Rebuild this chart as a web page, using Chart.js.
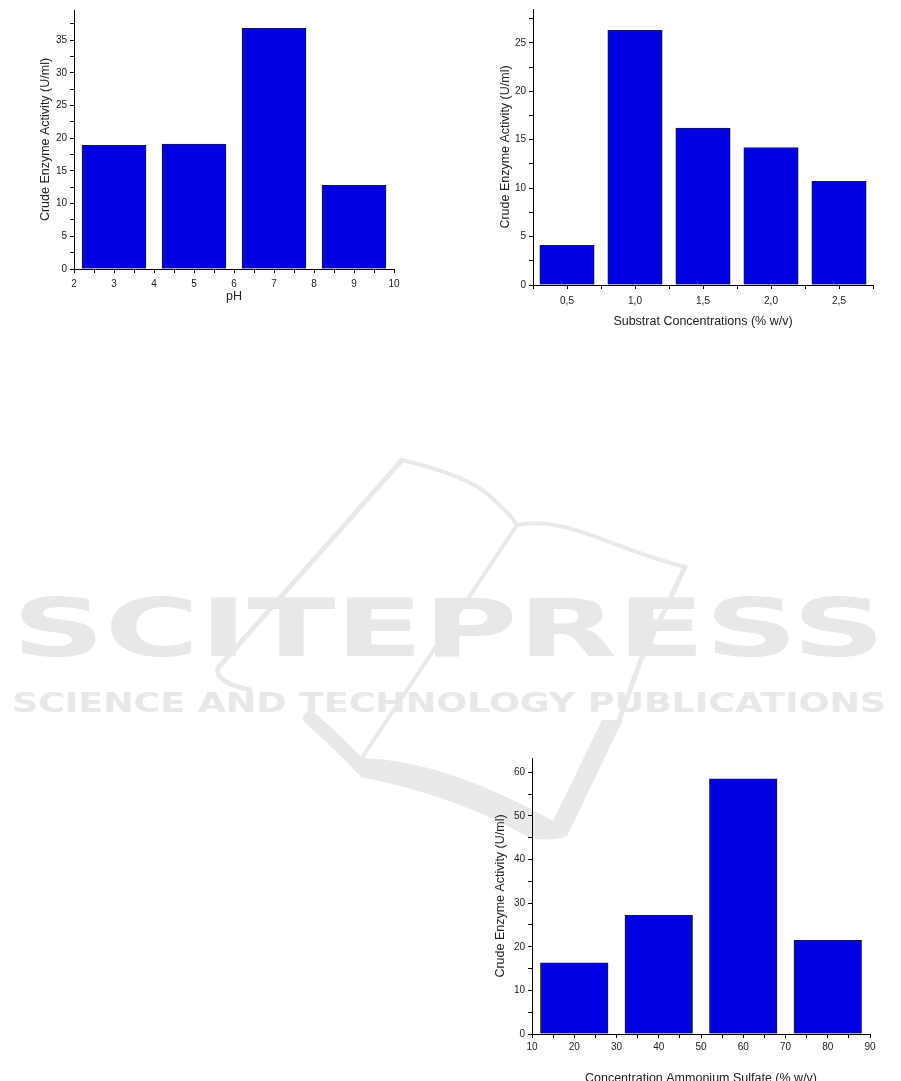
<!DOCTYPE html>
<html>
<head>
<meta charset="utf-8">
<script src="https://cdn.jsdelivr.net/npm/chart.js@4.4.0/dist/chart.umd.min.js"></script>
<style>
body { margin: 0; background: #fff; width: 901px; height: 1081px; overflow: hidden; position: relative; }
canvas { position: absolute; }
#wm { position: absolute; left: 0; top: 0; }
</style>
</head>
<body>

<svg id="wm" width="901" height="1081">
  <g fill="none" stroke="#e9e9e9" stroke-linecap="round" stroke-linejoin="round">
    <path d="M402,460 L218,668 Q214,682 250,690" stroke-width="5"/>
    <path d="M402,460 Q470,476 492,498 Q510,514 517,525" stroke-width="4"/>
    <path d="M517,525 C565,515 610,548 685,567" stroke-width="4"/>
    <path d="M517,525 L357,765" stroke-width="4"/>
    <path d="M685,567 L640,662 L620,718" stroke-width="5"/>
    <path d="M310,718 Q338,742 362,768" stroke-width="14"/>
  </g>
  <path d="M357,758 Q440,758 553,821 L602,720 L623,720 L567,836 Q552,842 530,838 Q455,795 360,777 Z" fill="#e9e9e9"/>
  <text x="12" y="656" font-family="DejaVu Sans" font-weight="bold" font-size="80" fill="#e8e8e8" textLength="873" lengthAdjust="spacingAndGlyphs">SCITEPRESS</text>
  <text x="12" y="712" font-family="DejaVu Sans" font-weight="bold" font-size="26" fill="#e8e8e8" textLength="874" lengthAdjust="spacingAndGlyphs">SCIENCE AND TECHNOLOGY PUBLICATIONS</text>
</svg>

<canvas id="phChart" width="376" height="308" style="left:34px;top:0px"></canvas>
<canvas id="substratChart" width="395" height="333" style="left:494px;top:0px"></canvas>
<canvas id="sulfateChart" width="397" height="342" style="left:489px;top:748px"></canvas>

<script>
// values
var phValues = [3, 5, 7, 9];
var phActivity = [18.9, 19.1, 36.8, 12.8];

var substratValues = [0.5, 1.0, 1.5, 2.0, 2.5];
var substratActivity = [4.1, 26.3, 16.2, 14.2, 10.7];

var sulfateValues = [20, 40, 60, 80];
var sulfateActivity = [16.3, 27.2, 58.5, 21.5];

var yTitle = "Crude Enzyme Activity (U/ml)";

Chart.defaults.font.family = "'Liberation Sans', Arial, sans-serif";
Chart.defaults.color = "#222";

function isMajor(v, major) {
    var r = v / major;
    return Math.abs(r - Math.round(r)) < 1e-6;
}

function makeChart(id, xs, ys, o) {

    var points = [];
    for (var i = 0; i < xs.length; i++) {
        points.push({ x: xs[i], y: ys[i] });
    }

    var axisLine = { display: true, color: "#000", width: 1 };
    var tickGrid = { display: true, drawOnChartArea: false, drawTicks: true, tickLength: 4, tickColor: "#000", offset: false };

    return new Chart(document.getElementById(id), {
        type: 'bar',
        data: {
            datasets: [{
                data: points,
                backgroundColor: "#0000e1",
                borderColor: "#1a1a1a",
                borderWidth: 1,
                barThickness: 'flex',
                barPercentage: 0.8,
                categoryPercentage: 1
            }]
        },
        options: {
            responsive: false,
            animation: false,
            layout: { padding: { top: o.padTop, right: o.padRight, left: 0, bottom: 0 } },
            plugins: { legend: { display: false }, tooltip: { enabled: false } },
            scales: {
                x: {
                    type: 'linear',
                    offset: false,
                    min: o.xMin,
                    max: o.xMax,
                    grid: tickGrid,
                    border: axisLine,
                    ticks: {
                        stepSize: o.xStep,
                        autoSkip: false,
                        maxRotation: 0,
                        includeBounds: false,
                        padding: o.xPad,
                        font: { size: 10 },
                        callback: function (v) {
                            if (!isMajor(v, o.xMajor)) return '';
                            return o.xFormat ? o.xFormat(v) : String(Math.round(v));
                        }
                    },
                    title: { display: true, text: o.xTitle, font: { size: 12.5 }, padding: { top: 0, bottom: 4 } },
                    afterFit: function (scale) { scale.height = o.xh; }
                },
                y: {
                    min: 0,
                    max: o.yMax,
                    grid: tickGrid,
                    border: axisLine,
                    ticks: {
                        stepSize: o.yStep,
                        autoSkip: false,
                        includeBounds: false,
                        padding: 3,
                        font: { size: 10 },
                        callback: function (v) {
                            return isMajor(v, o.yMajor) ? String(Math.round(v)) : '';
                        }
                    },
                    title: { display: true, text: yTitle, font: { size: 12.5 }, padding: { top: 4, bottom: 0 } },
                    afterFit: function (scale) { scale.width = o.yw; }
                }
            }
        }
    });
}

makeChart('phChart', phValues, phActivity, {
    xMin: 2, xMax: 10, xStep: 0.5, xMajor: 1,
    yMax: 39.6, yStep: 2.5, yMajor: 5,
    xTitle: "pH",
    padTop: 10, padRight: 16, yw: 40, xh: 39, xPad: 5
});

makeChart('substratChart', substratValues, substratActivity, {
    xMin: 0.25, xMax: 2.75, xStep: 0.25, xMajor: 0.5,
    xFormat: function (v) { return v.toFixed(1).replace('.', ','); },
    yMax: 28.5, yStep: 2.5, yMajor: 5,
    xTitle: "Substrat Concentrations (% w/v)",
    padTop: 8, padRight: 16, yw: 39, xh: 48, xPad: 6
});

makeChart('sulfateChart', sulfateValues, sulfateActivity, {
    xMin: 10, xMax: 90, xStep: 5, xMajor: 10,
    yMax: 63.3, yStep: 5, yMajor: 10,
    xTitle: "Concentration Ammonium Sulfate (% w/v)",
    padTop: 10, padRight: 16, yw: 43, xh: 56, xPad: 3
});
</script>
</body>
</html>
